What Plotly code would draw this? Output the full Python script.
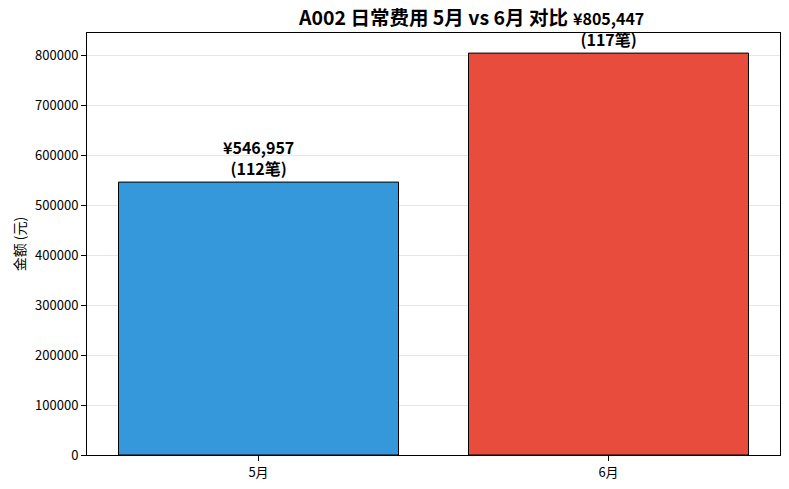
import plotly.graph_objects as go

# --- data ---
months = ['5月', '6月']
amounts = [546957, 805447]
counts = [112, 117]
colors = ['#3498db', '#e74c3c']

ymax = max(amounts) * 1.05
font = 'Noto Sans CJK SC'

fig = go.Figure(go.Bar(
    x=months,
    y=amounts,
    width=0.8,
    marker=dict(color=colors, line=dict(color='black', width=1)),
))

# value labels above each bar
for m, a, c in zip(months, amounts, counts):
    fig.add_annotation(
        x=m, y=a, text=f'<b>¥{a:,}<br>({c}笔)</b>',
        showarrow=False, yanchor='bottom', yshift=0,
        font=dict(family=font, size=16, color='black'),
    )

fig.update_layout(
    width=789, height=489,
    margin=dict(l=87, r=9, t=33, b=34, autoexpand=False),
    plot_bgcolor='white', paper_bgcolor='white',
    font=dict(family=font, size=13, color='black'),
    title=dict(text='<b>A002 日常费用 5月 vs 6月 对比</b>', xref='paper', x=0.5,
               xanchor='center', y=0.962, yanchor='middle', font=dict(size=19.5)),
    showlegend=False,
)
fig.update_xaxes(
    range=[-0.49, 1.49], showline=True, linecolor='black', mirror=True,
    ticks='outside', ticklen=5, tickcolor='black', showgrid=False,
    automargin=False,
)
fig.update_yaxes(
    range=[0, ymax], dtick=100000, tickformat='d',
    showline=True, linecolor='black', mirror=True,
    ticks='outside', ticklen=5, tickcolor='black',
    showgrid=True, gridcolor='#e6e6e6', zeroline=False, automargin=False,
    title=dict(text='金额 (元)', standoff=6, font=dict(size=14)),
)

# drop the page's default body margin so the figure sits at the corner
fig.write_html('out.html', config={'displayModeBar': False},
               post_script="document.body.style.margin='0';")
